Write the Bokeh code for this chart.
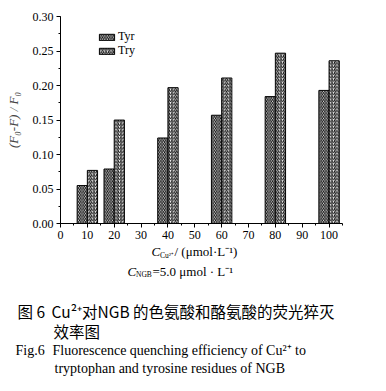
from bokeh.plotting import figure
from bokeh.models import (ColumnDataSource, Range1d, SingleIntervalTicker, NumeralTickFormatter,
                          Label, Legend, LegendItem)
from bokeh.transform import dodge
from bokeh.embed import file_html
from bokeh.resources import INLINE

# ---- data ----
conc = [10, 20, 40, 60, 80, 100]
tyr = [0.055, 0.079, 0.124, 0.157, 0.184, 0.193]
trp = [0.077, 0.150, 0.197, 0.211, 0.247, 0.236]
series_names = ["Tyr", "Try"]
y_ticks_interval = 0.05
x_ticks_interval = 10
y_label = "(F\u2080-F) / F\u2080"
caption_cn_1 = "Cu\u00b2\u207a\u5bf9NGB \u7684\u8272\u6c28\u9178\u548c\u916a\u6c28\u9178\u7684\u8367\u5149\u731d\u706d"
caption_cn_2 = "\u6548\u7387\u56fe"
caption_en_1 = "Fluorescence quenching efficiency of Cu\u00b2\u207a to"
caption_en_2 = "tryptophan and tyrosine residues of NGB"

SERIF = "Liberation Serif"
CJK = "Noto Sans CJK SC"

src = ColumnDataSource(dict(conc=conc, tyr=tyr, trp=trp))

W = 386
TOP_H = 244          # window y 0 .. 244
XMAX, YMAX = 105, 0.3002
p = figure(width=W, height=TOP_H, output_backend="svg", toolbar_location=None,
           x_range=Range1d(0, XMAX), y_range=Range1d(0, YMAX),
           min_border_left=60, min_border_right=44, min_border_top=16, min_border_bottom=21)
p.outline_line_color = None
p.xgrid.visible = False
p.ygrid.visible = False
p.background_fill_color = "white"
p.border_fill_color = "white"

bw = 3.8
common = dict(fill_color="white", hatch_color="black", hatch_scale=3.4, hatch_weight=1,
              line_color="black", line_width=1)
r1 = p.vbar(x=dodge("conc", -bw / 2), top="tyr", width=bw, source=src, hatch_pattern="\\", **common)
r2 = p.vbar(x=dodge("conc", bw / 2), top="trp", width=bw, source=src, hatch_pattern="/", **common)

# one legend box per series so that the rows can sit as close as in the reference
for name, rend, vy in ((series_names[0], r1, 179), (series_names[1], r2, 165)):
    lg = Legend(items=[LegendItem(label=name, renderers=[rend])], location=(37, vy))
    lg.border_line_color = None
    lg.background_fill_alpha = 0
    lg.padding = 0
    lg.margin = 0
    lg.spacing = 0
    lg.glyph_width = 19
    lg.glyph_height = 8
    lg.label_height = 8
    lg.label_standoff = 2
    lg.label_text_font = SERIF
    lg.label_text_font_size = "12px"
    lg.label_text_color = "black"
    p.add_layout(lg, "center")

for ax in (p.xaxis[0], p.yaxis[0]):
    ax.axis_line_color = "black"
    ax.axis_line_width = 1
    ax.major_tick_out = 4
    ax.major_tick_in = 0
    ax.minor_tick_out = 2
    ax.minor_tick_in = 0
    ax.major_tick_line_color = "black"
    ax.minor_tick_line_color = "black"
    ax.major_label_text_font = SERIF
    ax.major_label_text_font_size = "12px"
    ax.major_label_text_color = "black"

p.xaxis.ticker = SingleIntervalTicker(interval=x_ticks_interval, num_minor_ticks=2)
p.yaxis.ticker = SingleIntervalTicker(interval=y_ticks_interval, num_minor_ticks=2)
p.yaxis.formatter = NumeralTickFormatter(format="0.00")
p.xaxis.major_label_standoff = 3
p.yaxis.major_label_standoff = 3

p.yaxis.axis_label = y_label
p.yaxis.axis_label_text_font = SERIF
p.yaxis.axis_label_text_font_style = "italic"
p.yaxis.axis_label_text_font_size = "13px"
p.yaxis.axis_label_standoff = 9

# ---- lower text panel (pixel coordinates, separate root) ----
OY = TOP_H
BOT_H = 391 - OY
q = figure(width=W, height=BOT_H, output_backend="svg", toolbar_location=None,
           x_range=Range1d(0, W), y_range=Range1d(BOT_H, 0),
           x_axis_location=None, y_axis_location=None, min_border=0,
           min_border_left=0, min_border_right=0, min_border_top=0, min_border_bottom=0)
q.outline_line_color = None
q.xgrid.visible = False
q.ygrid.visible = False
q.background_fill_color = "white"
q.border_fill_color = "white"


def lab(text, wx, wy, size, font=SERIF, style="normal"):
    q.add_layout(Label(x=wx, y=wy - OY, text=text,
                       text_font=font, text_font_size=f"{size}px", text_font_style=style,
                       text_color="black", text_align="left", text_baseline="middle"))


# x axis label
lab("C", 151, 251, 13, style="italic")
lab("Cu\u00b2\u207a", 159.5, 255, 7.5)
lab("/ (\u03bcmol\u00b7L\u207b\u00b9)", 174, 251, 13)

# concentration note
lab("C", 127, 271, 13, style="italic")
lab("NGB", 135.5, 274, 7.5)
lab("=5.0 \u03bcmol \u00b7 L\u207b\u00b9", 152, 271, 13)

# captions
lab("\u56fe 6", 17, 310, 15.5, font=CJK)
lab(caption_cn_1, 51, 310, 15.5, font=CJK)
lab(caption_cn_2, 53, 330, 15.5, font=CJK)
lab("Fig.6", 15, 350, 14)
lab(caption_en_1, 52, 350, 14)
lab(caption_en_2, 54, 368, 14)

open("out.html", "w").write(file_html([p, q], INLINE))
